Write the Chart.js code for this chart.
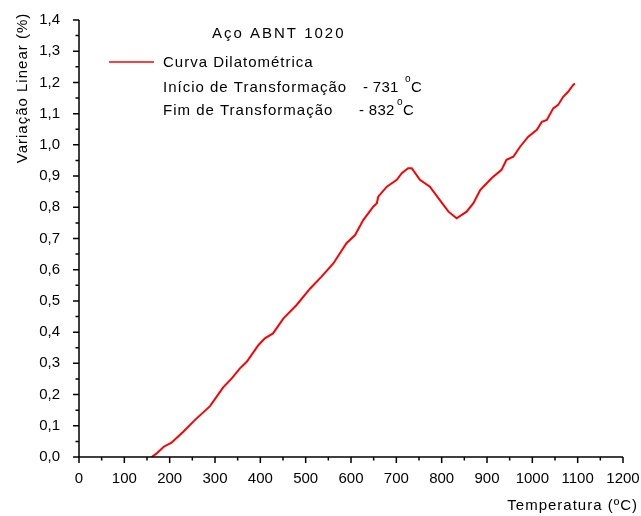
<!DOCTYPE html>
<html>
<head>
<meta charset="utf-8">
<script src="https://cdn.jsdelivr.net/npm/chart.js@4.4.0/dist/chart.umd.min.js"></script>
<style>
  html, body { margin: 0; padding: 0; background: #fff; }
  #wrap { width: 641px; height: 516px; }
</style>
</head>
<body>
<div id="wrap"><canvas id="myChart" width="641" height="516"></canvas></div>
<script>
// Dilatometric curve (temperature in ºC, linear variation in %)
const temps = [160, 170, 187, 204, 230, 256, 289, 318, 337, 355, 370, 396, 410, 428, 451, 480,
    510, 535, 561, 590, 609, 627, 649, 657, 660, 679, 701, 712, 726, 734, 752, 774, 796, 815,
    833, 855, 870, 885, 892, 910, 932, 943, 958, 973, 991, 1010, 1021, 1032, 1046, 1057, 1068,
    1079, 1090, 1094]
const variation = [0, 0.01, 0.033, 0.046, 0.081, 0.119, 0.163, 0.223, 0.252, 0.284, 0.305, 0.359,
    0.38, 0.396, 0.444, 0.487, 0.54, 0.578, 0.62, 0.685, 0.711, 0.759, 0.802, 0.813, 0.834, 0.866,
    0.888, 0.909, 0.925, 0.925, 0.888, 0.866, 0.823, 0.786, 0.765, 0.786, 0.813, 0.855, 0.866,
    0.893, 0.92, 0.952, 0.962, 0.994, 1.026, 1.048, 1.074, 1.08, 1.117, 1.128, 1.154, 1.17, 1.192,
    1.196]

const chartTitle = "Aço ABNT 1020"
const seriesName = "Curva Dilatométrica"
const startLabel = "Início de Transformação"
const startTemp = "- 731"
const endLabel = "Fim de Transformação"
const endTemp = "- 832"
const xTitle = "Temperatura (ºC)"
const yTitle = "Variação Linear (%)"

const FONT = "'Liberation Sans', Arial, sans-serif"

const points = temps.map((t, i) => ({ x: t, y: variation[i] }))

// axes lines, major/minor ticks and the texts of the figure
const decorations = {
    id: 'decorations',
    afterDraw(chart) {
        const ctx = chart.ctx
        const xs = chart.scales.x
        const ys = chart.scales.y
        const area = chart.chartArea
        ctx.save()
        ctx.strokeStyle = '#000'
        ctx.lineWidth = 1.5
        ctx.beginPath()
        ctx.moveTo(area.left, area.top)
        ctx.lineTo(area.left, area.bottom)
        ctx.lineTo(area.right, area.bottom)
        ctx.stroke()

        ctx.beginPath()
        xs.ticks.forEach(t => {
            const px = xs.getPixelForValue(t.value)
            const len = t.value % 100 === 0 ? 6 : 3.5
            ctx.moveTo(px, area.bottom)
            ctx.lineTo(px, area.bottom + len)
        })
        ys.ticks.forEach(t => {
            const py = ys.getPixelForValue(t.value)
            const major = Math.abs(t.value * 10 - Math.round(t.value * 10)) < 1e-6
            const len = major ? 6 : 3.5
            ctx.moveTo(area.left, py)
            ctx.lineTo(area.left - len, py)
        })
        ctx.stroke()

        ctx.fillStyle = '#000'
        ctx.textBaseline = 'alphabetic'
        ctx.textAlign = 'left'
        // title
        ctx.font = '15px ' + FONT
        ctx.letterSpacing = '2px'
        ctx.fillText(chartTitle, 212, 38)

        // legend line
        ctx.strokeStyle = '#ff0000'
        ctx.lineWidth = 1.5
        ctx.beginPath()
        ctx.moveTo(109, 62)
        ctx.lineTo(154, 62)
        ctx.stroke()

        ctx.letterSpacing = '1px'
        ctx.fillText(seriesName, 163, 67)
        ctx.fillText(startLabel, 163, 92)
        ctx.fillText(endLabel, 163, 115)

        ctx.letterSpacing = '0.3px'
        ctx.fillText(startTemp, 363, 92)
        ctx.font = '10px ' + FONT
        ctx.fillText("o", 405, 82)
        ctx.font = '15px ' + FONT
        ctx.fillText("C", 411, 92)

        ctx.fillText(endTemp, 359, 115)
        ctx.font = '10px ' + FONT
        ctx.fillText("o", 397, 105)
        ctx.font = '15px ' + FONT
        ctx.fillText("C", 403, 115)

        // axis titles
        ctx.letterSpacing = '1px'
        ctx.textAlign = 'right'
        ctx.fillText(xTitle, 638, 510)

        ctx.translate(27, 88)
        ctx.rotate(-Math.PI / 2)
        ctx.textAlign = 'center'
        ctx.fillText(yTitle, 0, 0)
        ctx.restore()
    }
}

const chart = document.getElementById('myChart').getContext('2d')

new Chart(chart, {
    type: 'scatter',
    data: {
        datasets: [{
            label: seriesName,
            data: points,
            showLine: true,
            borderColor: '#ff0000',
            backgroundColor: '#ff0000',
            borderWidth: 2,
            pointRadius: 0,
            tension: 0
        }]
    },
    options: {
        responsive: false,
        animation: false,
        layout: {
            padding: { left: 0, right: 18, top: 20, bottom: 0 }
        },
        plugins: {
            legend: { display: false },
            tooltip: { enabled: false }
        },
        scales: {
            x: {
                type: 'linear',
                min: 0,
                max: 1200,
                grid: { display: false },
                border: { display: false },
                ticks: {
                    stepSize: 50,
                    autoSkip: false,
                    maxRotation: 0,
                    padding: 5,
                    color: '#000',
                    font: { family: FONT, size: 15 },
                    callback: v => v % 100 === 0 ? String(v) : ''
                },
                afterFit: scale => {
                    scale.height = 59
                    scale.paddingLeft = 0
                    scale.paddingRight = 0
                }
            },
            y: {
                type: 'linear',
                min: 0,
                max: 1.4,
                grid: { display: false },
                border: { display: false },
                ticks: {
                    stepSize: 0.05,
                    autoSkip: false,
                    padding: 11,
                    color: '#000',
                    font: { family: FONT, size: 15 },
                    callback: v => Math.abs(v * 10 - Math.round(v * 10)) < 1e-6 ? v.toFixed(1).replace('.', ',') : ''
                },
                afterFit: scale => {
                    scale.width = 79
                    scale.paddingTop = 0
                    scale.paddingBottom = 0
                }
            }
        }
    },
    plugins: [decorations]
})
</script>
</body>
</html>
